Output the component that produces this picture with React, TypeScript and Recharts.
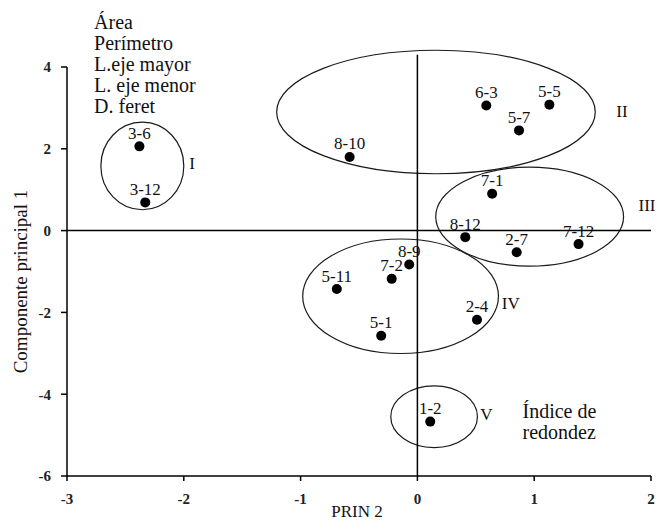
import {
  ScatterChart,
  Scatter,
  XAxis,
  YAxis,
  ZAxis,
  ReferenceLine,
  ReferenceArea,
  ReferenceDot,
  LabelList,
} from "recharts";

// accesiones (etiqueta, PRIN 2, componente principal 1)
const pointNames = ["3-6", "3-12", "6-3", "5-5", "5-7", "8-10", "7-1", "8-12", "2-7", "7-12", "8-9", "7-2", "5-11", "5-1", "2-4", "1-2"];
const prin2 = [-2.38, -2.33, 0.59, 1.13, 0.87, -0.58, 0.64, 0.41, 0.85, 1.38, -0.07, -0.22, -0.69, -0.31, 0.51, 0.11];
const prin1 = [2.06, 0.69, 3.06, 3.08, 2.45, 1.8, 0.9, -0.16, -0.53, -0.33, -0.83, -1.18, -1.43, -2.57, -2.18, -4.67];

// grupos: limites de cada elipse en unidades de los ejes
const groupNames = ["I", "II", "III", "IV", "V"];
const groupX1 = [-2.71, -1.205, 0.157, -0.982, -0.228];
const groupX2 = [-2.0, 1.523, 1.765, 0.694, 0.514];
const groupY1 = [0.51, 1.39, -0.87, -3.005, -5.305];
const groupY2 = [2.65, 4.41, 1.55, -0.205, -3.795];
const groupLabelX = [-1.93, 1.752, 1.966, 0.8, 0.59];
const groupLabelY = [1.63, 2.9, 0.61, -1.78, -4.49];

// variables asociadas a cada componente
const varsTop = ["Área", "Perímetro", "L.eje mayor", "L. eje menor", "D. feret"];
const varsBottom = ["Índice de", "redondez"];

const xTicks = [-3, -2, -1, 0, 1, 2];
const yTicks = [-6, -4, -2, 0, 2, 4];

const serif = "'Liberation Serif', 'Times New Roman', serif";

const points = pointNames.map((name, i) => ({ name, x: prin2[i], y: prin1[i] }));

const noteText = (lines: string[]) => (p: any) => (
  <text x={p.cx} y={p.cy} style={{ fontFamily: serif, fontSize: 20 }} fill="#111">
    {lines.map((l, i) => (
      <tspan key={l} x={p.cx} dy={i === 0 ? 0 : 21}>
        {l}
      </tspan>
    ))}
  </text>
);

export default function App() {
  return (
    <div style={{ position: "absolute", left: 0, top: 0, background: "#fff", fontFamily: serif }}>
      <ScatterChart
        width={662}
        height={525}
        margin={{ top: 67, right: 11, bottom: 19, left: 20 }}
        style={{ fontFamily: serif }}
      >
        <XAxis
          type="number"
          dataKey="x"
          domain={[-3, 2]}
          ticks={xTicks}
          stroke="#000"
          strokeWidth={1.5}
          tickSize={5}
          tickMargin={12}
          height={30}
          tick={{ fill: "#222", fontSize: 15, fontWeight: "bold", fontFamily: serif }}
          label={{
            value: "PRIN 2",
            position: "bottom",
            offset: -1,
            fill: "#111",
            fontSize: 17,
            fontFamily: serif,
            dx: -2,
          }}
        />
        <YAxis
          type="number"
          dataKey="y"
          domain={[-6, 4]}
          ticks={yTicks}
          stroke="#000"
          strokeWidth={1.5}
          tickSize={6}
          tickMargin={10}
          width={47}
          tick={{ fill: "#222", fontSize: 15, fontWeight: "bold", fontFamily: serif }}
          label={{
            content: (p: any) => {
              const vb = p.viewBox;
              const cy = vb.y + vb.height / 2 + 10;
              return (
                <text
                  x={27}
                  y={cy}
                  transform={`rotate(-90 27 ${cy})`}
                  textAnchor="middle"
                  style={{ fontFamily: serif, fontSize: 19 }}
                  fill="#111"
                >
                  Componente principal 1
                </text>
              );
            },
          }}
        />
        <ZAxis range={[80, 80]} />
        <ReferenceLine y={0} stroke="#000" strokeWidth={1.5} />
        <ReferenceLine
          segment={[
            { x: 0, y: -6 },
            { x: 0, y: 4.3 },
          ]}
          stroke="#000"
          strokeWidth={1.5}
          ifOverflow="visible"
        />
        {groupNames.map((g, i) => (
          <ReferenceArea
            key={g}
            x1={groupX1[i]}
            x2={groupX2[i]}
            y1={groupY1[i]}
            y2={groupY2[i]}
            ifOverflow="visible"
            shape={(p: any) => (
              <ellipse
                cx={p.x + p.width / 2}
                cy={p.y + p.height / 2}
                rx={Math.abs(p.width) / 2}
                ry={Math.abs(p.height) / 2}
                fill="none"
                stroke="#1a1a1a"
                strokeWidth={1.2}
              />
            )}
          />
        ))}
        {groupNames.map((g, i) => (
          <ReferenceDot
            key={`lbl-${g}`}
            x={groupLabelX[i]}
            y={groupLabelY[i]}
            ifOverflow="visible"
            shape={(p: any) => (
              <text
                x={p.cx}
                y={p.cy}
                textAnchor="middle"
                dominantBaseline="central"
                style={{ fontFamily: serif, fontSize: 17 }}
                fill="#111"
              >
                {g}
              </text>
            )}
          />
        ))}
        <ReferenceDot x={-2.768} y={4.94} ifOverflow="visible" shape={noteText(varsTop)} />
        <ReferenceDot x={0.9} y={-4.57} ifOverflow="visible" shape={noteText(varsBottom)} />
        <Scatter
          data={points}
          isAnimationActive={false}
          shape={(p: any) => <circle cx={p.cx} cy={p.cy} r={5} fill="#000" />}
        >
          <LabelList
            dataKey="name"
            position="top"
            offset={3}
            fill="#111"
            fontSize={17}
            style={{ fontFamily: serif }}
          />
        </Scatter>
      </ScatterChart>
    </div>
  );
}
